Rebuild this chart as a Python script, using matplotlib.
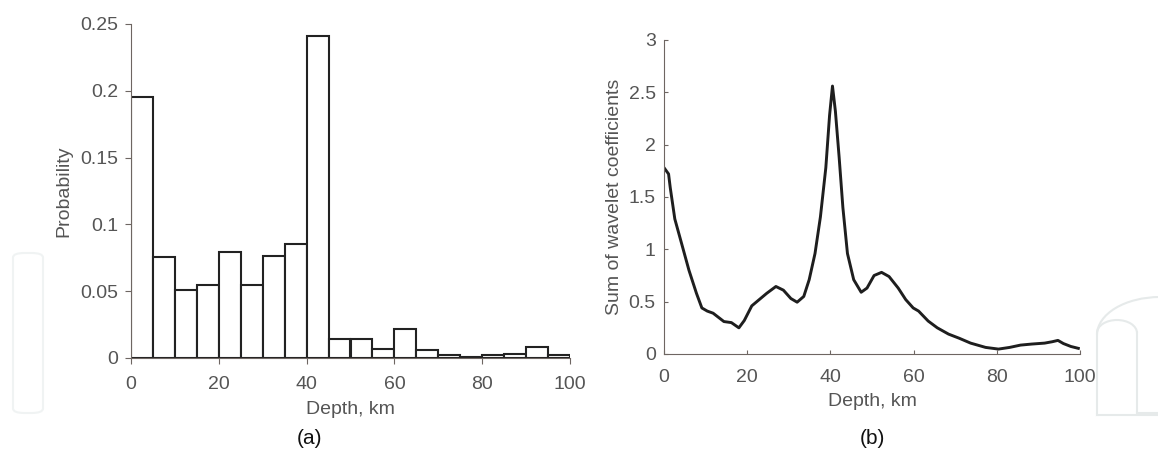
import matplotlib.pyplot as plt
import numpy as np
from matplotlib.patches import FancyBboxPatch, Arc
from matplotlib.lines import Line2D

plt.rcParams['font.family'] = ['Liberation Sans', 'DejaVu Sans']

# (a) histogram: probability per 5 km depth bin
bin_edges = np.arange(0, 105, 5)
probability = [0.195, 0.0755, 0.0506, 0.0546, 0.0793, 0.0546, 0.0763, 0.0852,
               0.241, 0.0145, 0.0145, 0.007, 0.0214, 0.0062, 0.0025, 0.001,
               0.002, 0.003, 0.0082, 0.0025]

# (b) sum of wavelet coefficients vs depth
depth = [0, 1.1, 1.5, 2.6, 4.2, 6.0, 7.8, 9.1, 10.4, 11.8, 13.1, 14.4, 16.2, 18.0,
         19.3, 21.1, 22.9, 24.7, 26.9, 28.7, 30.5, 32.0, 33.6, 34.9, 36.3, 37.6,
         38.9, 39.8, 40.5, 41.2, 42.1, 43.0, 44.1, 45.6, 47.4, 48.8, 50.5, 52.3,
         54.1, 56.3, 58.1, 59.9, 61.2, 63.5, 65.7, 68.4, 71.0, 73.7, 77.3, 80.4,
         83.1, 85.7, 88.4, 91.5, 93.3, 94.7, 96.0, 97.8, 99.6]
wavelet_sum = [1.78, 1.72, 1.59, 1.29, 1.06, 0.80, 0.58, 0.44, 0.41, 0.39, 0.35,
               0.31, 0.30, 0.25, 0.32, 0.46, 0.52, 0.58, 0.645, 0.61, 0.53, 0.495,
               0.55, 0.71, 0.96, 1.31, 1.78, 2.28, 2.56, 2.32, 1.88, 1.40, 0.96,
               0.71, 0.59, 0.63, 0.75, 0.78, 0.74, 0.63, 0.52, 0.44, 0.41, 0.315,
               0.25, 0.19, 0.15, 0.104, 0.063, 0.047, 0.063, 0.085, 0.095, 0.104,
               0.117, 0.13, 0.10, 0.072, 0.054]

text_col = '#555555'
axis_col = '#6e6662'
W, H = 1158, 454

fig = plt.figure(figsize=(W / 100, H / 100), dpi=100)

# faint watermark shapes in the background
wm = '#e6eaea'
fig.patches.append(FancyBboxPatch((13 / W, 1 - 413 / H), 30 / W, 160 / H,
                                  boxstyle='round,pad=0,rounding_size=0.01',
                                  transform=fig.transFigure, facecolor='none',
                                  edgecolor='#f0f3f3', linewidth=1.5))
fig.lines.append(Line2D([1097 / W, 1097 / W], [1 - 415 / H, 1 - 335 / H],
                        transform=fig.transFigure, color=wm, linewidth=1.5))
fig.lines.append(Line2D([1097 / W, 1158 / W], [1 - 415 / H, 1 - 415 / H],
                        transform=fig.transFigure, color=wm, linewidth=1.5))
fig.lines.append(Line2D([1137 / W, 1137 / W], [1 - 413 / H, 1 - 333 / H],
                        transform=fig.transFigure, color=wm, linewidth=1.5))
fig.lines.append(Line2D([1137 / W, 1158 / W], [1 - 413 / H, 1 - 413 / H],
                        transform=fig.transFigure, color=wm, linewidth=1.5))
fig.patches.append(Arc((1117 / W, 1 - 333 / H), 40 / W, 26 / H, theta1=0, theta2=180,
                       transform=fig.transFigure, color=wm, linewidth=1.5))
fig.patches.append(Arc((1160 / W, 1 - 335 / H), 126 / W, 76 / H, theta1=90, theta2=180,
                       transform=fig.transFigure, color=wm, linewidth=1.5))

# panel (a)
ax1 = fig.add_axes([131 / W, 1 - 358 / H, 439 / W, 334 / H])
ax1.bar(bin_edges[:-1], probability, width=5, align='edge',
        color='white', edgecolor='#222222', linewidth=1.5)
ax1.set_xlim(0, 100)
ax1.set_ylim(0, 0.25)
ax1.set_xticks([0, 20, 40, 60, 80, 100])
ax1.set_yticks([0, 0.05, 0.1, 0.15, 0.2, 0.25])
ax1.set_yticklabels(['0', '0.05', '0.1', '0.15', '0.2', '0.25'])
ax1.set_xlabel('Depth, km', fontsize=14, color=text_col, labelpad=6)
ax1.set_ylabel('Probability', fontsize=14, color=text_col, labelpad=6)
ax1.spines[['top', 'right']].set_visible(False)
for s in ['left', 'bottom']:
    ax1.spines[s].set_color(axis_col)
ax1.tick_params(direction='out', length=4, colors=axis_col, labelcolor=text_col,
                labelsize=14)
ax1.tick_params(axis='x', pad=9)
ax1.tick_params(axis='y', pad=5)

# panel (b)
ax2 = fig.add_axes([664 / W, 1 - 354 / H, 416 / W, 314 / H])
ax2.plot(depth, wavelet_sum, color='#1e1e1e', linewidth=2.1)
ax2.set_xlim(0, 100)
ax2.set_ylim(0, 3)
ax2.set_xticks([0, 20, 40, 60, 80, 100])
ax2.set_yticks([0, 0.5, 1, 1.5, 2, 2.5, 3])
ax2.set_yticklabels(['0', '0.5', '1', '1.5', '2', '2.5', '3'])
ax2.set_xlabel('Depth, km', fontsize=14, color=text_col, labelpad=5)
ax2.set_ylabel('Sum of wavelet coefficients', fontsize=14, color=text_col, labelpad=4)
ax2.spines[['top', 'right']].set_visible(False)
for s in ['left', 'bottom']:
    ax2.spines[s].set_color(axis_col)
ax2.tick_params(direction='in', length=3, colors=axis_col, labelcolor=text_col,
                labelsize=14)
ax2.tick_params(axis='x', pad=11)
ax2.tick_params(axis='y', pad=6)

fig.text(310 / W, 1 - 438 / H, '(a)', ha='center', va='center', fontsize=15,
         color='#111111')
fig.text(872 / W, 1 - 438 / H, '(b)', ha='center', va='center', fontsize=15,
         color='#111111')

fig.savefig('out.png', dpi=100)
